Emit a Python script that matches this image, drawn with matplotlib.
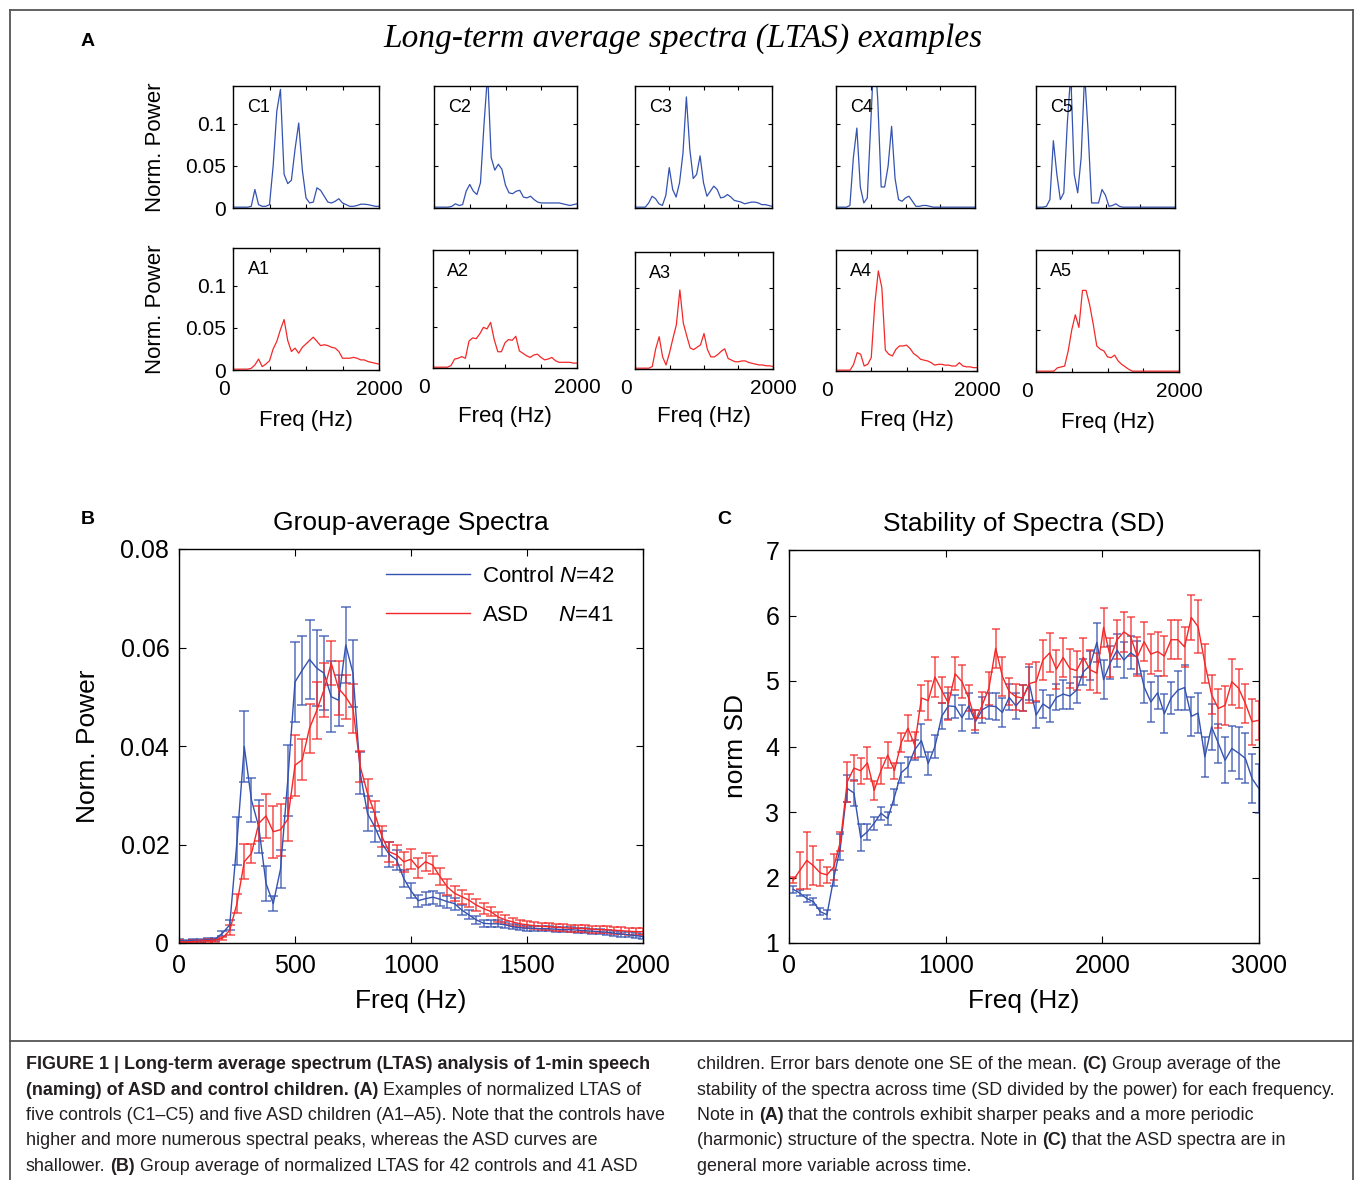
import numpy as np
import matplotlib
matplotlib.use('Agg')
import matplotlib.pyplot as plt
from matplotlib.lines import Line2D
from matplotlib.colors import to_rgba
from matplotlib.transforms import ScaledTranslation

W, H = 1355, 1180
plt.rcParams['font.family'] = ['Liberation Sans', 'DejaVu Sans']
plt.rcParams['mathtext.fontset'] = 'custom'
plt.rcParams['mathtext.it'] = 'Liberation Sans:italic'
plt.rcParams['mathtext.rm'] = 'Liberation Sans'
CAP_FONT = ['Liberation Sans Narrow', 'Liberation Sans', 'DejaVu Sans']

BLUE = '#3452b0'
RED = '#f42828'

# ---------------- panel A: single-subject LTAS, 50 Hz bins 0..2000 ----------------
ltas_bin = 50
ctrl_names = ['C1', 'C2', 'C3', 'C4', 'C5']
asd_names = ['A1', 'A2', 'A3', 'A4', 'A5']

c1 = [.001, .001, .001, .001, .001, .002, .022, .004, .002, .002, .004, .05, .115, .141, .04, .029, .033, .07, .101, .045,
      .012, .006, .007, .024, .021, .014, .007, .006, .008, .011, .006, .004, .002, .002, .003, .0045, .0045, .004, .003, .002, .002]
c2 = [.001, .001, .001, .001, .001, .002, .005, .003, .004, .02, .028, .02, .016, .03, .10, .16, .06, .045, .052, .046,
      .027, .018, .017, .02, .021, .013, .012, .014, .01, .007, .006, .006, .006, .006, .006, .006, .005, .004, .003, .004, .005]
c3 = [.001, .001, .001, .001, .006, .014, .011, .005, .003, .015, .048, .022, .013, .03, .065, .132, .07, .035, .04, .062,
      .03, .014, .02, .026, .022, .012, .013, .016, .013, .009, .008, .007, .005, .006, .007, .007, .006, .004, .004, .003, .002]
c4 = [.001, .001, .001, .001, .003, .06, .095, .025, .006, .012, .1, .19, .13, .025, .025, .05, .097, .035, .01, .008,
      .012, .014, .008, .002, .002, .003, .003, .002, .001, .001, .001, .001, .001, .001, .001, .001, .001, .001, .001, .001, .001]
c5 = [.001, .001, .001, .002, .01, .08, .04, .01, .018, .1, .16, .04, .018, .06, .16, .09, .006, .006, .006, .022,
      .015, .002, .003, .005, .002, .001, .001, .001, .001, .001, .001, .001, .001, .001, .001, .001, .001, .001, .001, .001, .001]
a1 = [.001, .001, .001, .001, .001, .002, .006, .013, .004, .007, .011, .025, .034, .048, .06, .035, .022, .026, .02, .027,
      .031, .035, .039, .034, .029, .03, .029, .027, .026, .022, .014, .014, .014, .015, .014, .012, .012, .01, .009, .008, .007]
a2 = [.001, .001, .001, .001, .001, .003, .011, .012, .014, .012, .033, .037, .036, .042, .05, .048, .056, .035, .02, .02,
      .031, .035, .034, .039, .021, .018, .015, .013, .016, .017, .013, .01, .011, .013, .009, .007, .007, .007, .007, .006, .006]
a3 = [.001, .001, .001, .001, .001, .003, .025, .04, .015, .005, .02, .038, .055, .098, .057, .041, .026, .024, .027, .03,
      .044, .024, .015, .015, .018, .022, .025, .013, .011, .009, .009, .01, .01, .008, .007, .006, .005, .005, .004, .004, .003]
a4 = [.001, .001, .001, .001, .001, .008, .022, .02, .006, .008, .016, .08, .12, .1, .025, .02, .018, .026, .03, .03,
      .031, .027, .021, .018, .014, .013, .012, .01, .007, .008, .008, .007, .007, .006, .006, .01, .006, .005, .005, .004, .004]
a5 = [.001, .001, .001, .001, .001, .001, .005, .006, .007, .025, .05, .068, .053, .097, .097, .08, .057, .031, .027, .025,
      .018, .017, .02, .013, .009, .006, .003, .001, .001, .001, .001, .001, .001, .001, .001, .001, .001, .001, .001, .001, .001]
ctrl_curves = [c1, c2, c3, c4, c5]
asd_curves = [a1, a2, a3, a4, a5]

# ---------------- panel B: group average spectra, 31.25 Hz bins ----------------
bin_b = 31.25
ctrl_mean_b = [.0005, .0004, .0006, .0005, .0007, .0008, .002, .0037, .0207, .0399,
               .029, .0236, .0121, .008, .015, .033, .053, .0554, .0576, .0558,
               .0548, .050, .0493, .0605, .0548, .0345, .0263, .0236, .0202, .018,
               .0169, .0131, .0106, .0086, .009, .0093, .0089, .0084, .008, .0067,
               .0057, .0047, .004, .0039, .0039, .0037, .0033, .0031, .003, .003,
               .0029, .0029, .0028, .0027, .0027, .0026, .0025, .0024, .0023, .0022,
               .002, .0018, .0017, .0015, .0013]
ctrl_se_b = [.0003, .0003, .0003, .0003, .0003, .0003, .0005, .001, .0048, .0073,
             .0045, .0054, .0035, .0016, .0039, .0073, .0081, .007, .008, .0077,
             .0075, .0072, .0052, .0078, .0068, .0042, .0035, .003, .0025, .0025,
             .002, .0018, .0015, .0012, .0013, .0013, .0013, .0012, .0012, .001,
             .0009, .0008, .0007, .0007, .0007, .0006, .0005, .0005, .0005, .0005,
             .0005, .0005, .0005, .0005, .0005, .0005, .0005, .0005, .0005, .0005,
             .0005, .0005, .0005, .0005, .0005]
asd_mean_b = [.0003, .0002, .0003, .0004, .0005, .0006, .001, .0026, .008, .0165,
              .0182, .0243, .0258, .0226, .023, .0251, .0361, .0372, .0436, .0472,
              .0514, .0568, .0517, .050, .0476, .0358, .0304, .0263, .0216, .0185,
              .0179, .0165, .017, .0152, .0165, .0158, .0135, .0114, .0101, .0094,
              .0087, .0077, .007, .0064, .0053, .0047, .0043, .0039, .0037, .0035,
              .0034, .0033, .0032, .0031, .003, .003, .0029, .0028, .0027, .0027,
              .0026, .0025, .0024, .0023, .0023]
asd_se_b = [.0003, .0003, .0003, .0003, .0003, .0003, .0003, .001, .002, .0036,
            .002, .0036, .0044, .0053, .0053, .0043, .0062, .0042, .005, .0057,
            .0055, .0045, .0055, .0045, .005, .0032, .003, .0025, .0022, .002,
            .002, .002, .002, .002, .0018, .0018, .0017, .0016, .0015, .0014,
            .0013, .0012, .0011, .001, .001, .0009, .0008, .0007, .0007, .0007,
            .0007, .0007, .0007, .0007, .0007, .0007, .0007, .0007, .0007, .0007,
            .0007, .0007, .0007, .0007, .0007]

# ---------------- panel C: stability (norm SD), 43.07 Hz bins from 27 Hz ----------------
bin_c = 43.07
start_c = 27
ctrl_sd = [1.82, 1.76, 1.68, 1.63, 1.48, 1.43, 1.99, 2.47, 3.36, 3.29,
           2.61, 2.70, 2.83, 2.98, 2.90, 3.23, 3.60, 3.69, 3.95, 4.09,
           3.74, 4.00, 4.46, 4.62, 4.61, 4.44, 4.62, 4.38, 4.56, 4.62,
           4.61, 4.52, 4.75, 4.62, 4.74, 4.96, 4.48, 4.65, 4.58, 4.75,
           4.80, 4.77, 4.86, 5.14, 5.24, 5.59, 5.02, 5.28, 5.47, 5.32,
           5.43, 5.36, 4.91, 4.68, 4.82, 4.50, 4.74, 4.86, 4.90, 4.46,
           4.51, 3.84, 4.30, 4.05, 3.79, 3.97, 3.90, 3.82, 3.51, 3.36]
ctrl_sd_se = [.05, .05, .05, .05, .06, .07, .12, .2, .2, .2,
              .2, .12, .1, .1, .1, .12, .15, .15, .15, .25,
              .18, .18, .2, .2, .18, .2, .2, .18, .2, .2,
              .2, .22, .2, .2, .2, .25, .2, .22, .2, .2,
              .22, .2, .2, .2, .22, .3, .3, .25, .25, .28,
              .25, .25, .25, .3, .25, .3, .25, .3, .35, .3,
              .3, .3, .35, .3, .35, .35, .4, .38, .38, .38]
asd_sd = [1.96, 2.11, 2.26, 2.18, 2.07, 2.04, 2.16, 2.55, 3.46, 3.67,
          3.63, 3.75, 3.33, 3.63, 3.87, 3.63, 4.06, 4.28, 4.02, 4.74,
          4.70, 5.06, 4.86, 4.66, 5.11, 4.99, 4.74, 4.40, 4.63, 4.89,
          5.50, 5.07, 4.84, 4.76, 4.74, 4.96, 4.99, 5.32, 5.43, 5.18,
          5.36, 5.19, 5.16, 5.36, 5.17, 5.12, 5.82, 5.36, 5.63, 5.75,
          5.68, 5.37, 5.60, 5.41, 5.45, 5.38, 5.63, 5.63, 5.52, 5.97,
          5.83, 5.27, 4.79, 4.58, 4.63, 4.99, 4.89, 4.66, 4.38, 4.40]
asd_sd_se = [.05, .28, .43, .3, .2, .12, .2, .15, .3, .2,
             .2, .25, .15, .2, .2, .12, .15, .2, .2, .2,
             .3, .3, .2, .25, .25, .25, .2, .15, .2, .25,
             .3, .3, .2, .2, .2, .3, .3, .3, .3, .3,
             .3, .3, .3, .3, .3, .3, .3, .3, .3, .3,
             .3, .3, .3, .3, .3, .3, .3, .3, .3, .35,
             .4, .3, .3, .3, .3, .35, .3, .3, .35, .3]

caption_left = [
    [("FIGURE 1 | Long-term average spectrum (LTAS) analysis of 1-min speech", True)],
    [("(naming) of ASD and control children. (A)", True), (" Examples of normalized LTAS of", False)],
    [("five controls (C1–C5) and five ASD children (A1–A5). Note that the controls have", False)],
    [("higher and more numerous spectral peaks, whereas the ASD curves are", False)],
    [("shallower. ", False), ("(B)", True), (" Group average of normalized LTAS for 42 controls and 41 ASD", False)],
]
caption_right = [
    [("children. Error bars denote one SE of the mean. ", False), ("(C)", True), (" Group average of the", False)],
    [("stability of the spectra across time (SD divided by the power) for each frequency.", False)],
    [("Note in ", False), ("(A)", True), (" that the controls exhibit sharper peaks and a more periodic", False)],
    [("(harmonic) structure of the spectra. Note in ", False), ("(C)", True), (" that the ASD spectra are in", False)],
    [("general more variable across time.", False)],
]

fig = plt.figure(figsize=(W / 100, H / 100), dpi=100)
renderer = fig.canvas.get_renderer()


def box(x0, y0, x1, y1):
    return fig.add_axes([x0 / W, 1 - y1 / H, (x1 - x0) / W, (y1 - y0) / H])


def style(ax, size, length=4):
    ax.tick_params(direction='in', top=True, right=True, labelsize=size,
                   length=length, width=0.8, pad=5)
    for s in ax.spines.values():
        s.set_linewidth(1.0)


# ---- frame ----
frame = dict(color='#555555', lw=1.3, transform=fig.transFigure)
fig.add_artist(Line2D([10 / W, 1353 / W], [1 - 10 / H, 1 - 10 / H], **frame))
fig.add_artist(Line2D([10 / W, 1353 / W], [1 - 1041 / H, 1 - 1041 / H], **frame))
fig.add_artist(Line2D([10 / W, 10 / W], [1 - 10 / H, 0], **frame))
fig.add_artist(Line2D([1353 / W, 1353 / W], [1 - 10 / H, 0], **frame))

# ---- panel A ----
fig.text(88 / W, 1 - 41 / H, 'A', family=CAP_FONT, fontweight='bold', fontsize=14, ha='center', va='center')
fig.text(683 / W, 1 - 39 / H, 'Long-term average spectra (LTAS) examples', family=['Liberation Serif'],
         style='italic', fontsize=24, ha='center', va='center')

top_boxes = [(233, 86, 379, 208), (434, 86, 577, 208), (635, 86, 772, 208), (836, 86, 975, 208), (1036, 86, 1175, 208)]
bot_boxes = [(233, 248, 379, 370), (433, 250, 577, 368), (635, 252, 773, 369), (836, 250, 977, 371), (1036, 250, 1179, 372)]
shift_zero = ScaledTranslation(-9 / 100, 0, fig.dpi_scale_trans)

for k in range(5):
    for row, (bx, name, curve, col) in enumerate([(top_boxes[k], ctrl_names[k], ctrl_curves[k], BLUE),
                                                   (bot_boxes[k], asd_names[k], asd_curves[k], RED)]):
        ax = box(*bx)
        freq = np.arange(len(curve)) * ltas_bin
        ax.plot(freq, curve, color=col, lw=0.9)
        ax.set_xlim(0, 2000)
        ax.set_ylim(0, 0.145)
        ax.set_xticks([0, 500, 1000, 1500, 2000])
        ax.set_yticks([0, 0.05, 0.1])
        style(ax, 15, length=3)
        ax.text(0.1, 0.82, name, transform=ax.transAxes, fontsize=13, va='center', ha='left')
        if k == 0:
            ax.set_yticklabels(['0', '0.05', '0.1'])
            ax.set_ylabel('Norm. Power', fontsize=16)
            ax.yaxis.set_label_coords(-0.53, 0.5)
            ax.yaxis.label.set_va('center')
        else:
            ax.set_yticklabels([])
        if row == 1:
            ax.set_xticklabels(['0', '', '', '', '2000'])
            ax.tick_params(axis='x', pad=7)
            t0 = ax.xaxis.get_major_ticks()[0].label1
            t0.set_transform(t0.get_transform() + shift_zero)
            ax.set_xlabel('Freq (Hz)', fontsize=16)
            ax.xaxis.set_label_coords(0.5, -0.41)
            ax.xaxis.label.set_va('center')
        else:
            ax.set_xticklabels([])

# ---- panel B ----
fig.text(88 / W, 1 - 519 / H, 'B', family=CAP_FONT, fontweight='bold', fontsize=14, ha='center', va='center')
axb = box(179, 549, 643, 943)
fb = np.arange(len(ctrl_mean_b)) * bin_b
axb.errorbar(fb, ctrl_mean_b, yerr=ctrl_se_b, color=BLUE, lw=1.0, ecolor=to_rgba(BLUE, 0.75),
             elinewidth=1.2, capsize=3.5, capthick=1.2)
axb.errorbar(fb, asd_mean_b, yerr=asd_se_b, color=RED, lw=1.0, ecolor=to_rgba(RED, 0.75),
             elinewidth=1.2, capsize=3.5, capthick=1.2)
axb.set_xlim(0, 2000)
axb.set_ylim(0, 0.08)
axb.set_xticks([0, 500, 1000, 1500, 2000])
axb.set_yticks([0, 0.02, 0.04, 0.06, 0.08])
axb.set_yticklabels(['0', '0.02', '0.04', '0.06', '0.08'])
style(axb, 18, length=5)
axb.tick_params(axis='y', pad=7)
axb.tick_params(axis='x', pad=8)
axb.set_title('Group-average Spectra', fontsize=19, pad=14)
axb.set_xlabel('Freq (Hz)', fontsize=19)
axb.xaxis.set_label_coords(0.5, -0.147)
axb.xaxis.label.set_va('center')
axb.set_ylabel('Norm. Power', fontsize=19)
axb.yaxis.set_label_coords(-0.196, 0.5)
axb.yaxis.label.set_va('center')
handles = [Line2D([], [], color=BLUE, lw=1.0), Line2D([], [], color=RED, lw=1.0)]
axb.legend(handles, ['Control $N$=42', 'ASD     $N$=41'], loc='upper left',
           bbox_to_anchor=((386 - 179) / 464, 1 - (566 - 549) / 394), frameon=False, fontsize=16,
           handlelength=3.8, handletextpad=0.5, labelspacing=0.8, borderpad=0, borderaxespad=0)

# ---- panel C ----
fig.text(724 / W, 1 - 519 / H, 'C', family=CAP_FONT, fontweight='bold', fontsize=14, ha='center', va='center')
axc = box(789, 550, 1259, 943)
fc = start_c + np.arange(len(ctrl_sd)) * bin_c
axc.errorbar(fc, ctrl_sd, yerr=ctrl_sd_se, color=BLUE, lw=1.0, ecolor=to_rgba(BLUE, 0.75),
             elinewidth=1.2, capsize=2.6, capthick=1.2)
axc.errorbar(fc, asd_sd, yerr=asd_sd_se, color=RED, lw=1.0, ecolor=to_rgba(RED, 0.75),
             elinewidth=1.2, capsize=2.6, capthick=1.2)
axc.set_xlim(0, 3000)
axc.set_ylim(1, 7)
axc.set_xticks([0, 1000, 2000, 3000])
axc.set_yticks([1, 2, 3, 4, 5, 6, 7])
style(axc, 18, length=5)
axc.tick_params(axis='y', pad=7)
axc.tick_params(axis='x', pad=8)
axc.set_title('Stability of Spectra (SD)', fontsize=19, pad=14)
axc.set_xlabel('Freq (Hz)', fontsize=19)
axc.xaxis.set_label_coords(0.5, -0.147)
axc.xaxis.label.set_va('center')
axc.set_ylabel('norm SD', fontsize=19)
axc.yaxis.set_label_coords(-0.113, 0.5)
axc.yaxis.label.set_va('center')

# ---- caption ----
probe = fig.text(0, 0, caption_right[1][0][0], fontsize=10, family=CAP_FONT)
cap_size = 10 * 640 / probe.get_window_extent(renderer).width
probe.remove()
probe = fig.text(0, 0, 'a a', fontsize=cap_size, family=CAP_FONT)
w_sp = probe.get_window_extent(renderer).width
probe.set_text('aa')
w_sp -= probe.get_window_extent(renderer).width
probe.remove()


def draw_runs(x, y, runs):
    for s, bold in runs:
        lead = len(s) - len(s.lstrip(' '))
        trail = len(s) - len(s.rstrip(' '))
        x += lead * w_sp
        t = fig.text(x / W, 1 - y / H, s.strip(' '), fontsize=cap_size, family=CAP_FONT,
                     fontweight='bold' if bold else 'normal', color='#231f20',
                     ha='left', va='baseline')
        x += t.get_window_extent(renderer).width + trail * w_sp


baselines = [1069, 1095, 1120, 1145, 1171]
for y, runs in zip(baselines, caption_left):
    draw_runs(26, y, runs)
for y, runs in zip(baselines, caption_right):
    draw_runs(697, y, runs)

fig.savefig('out.png', dpi=100)
